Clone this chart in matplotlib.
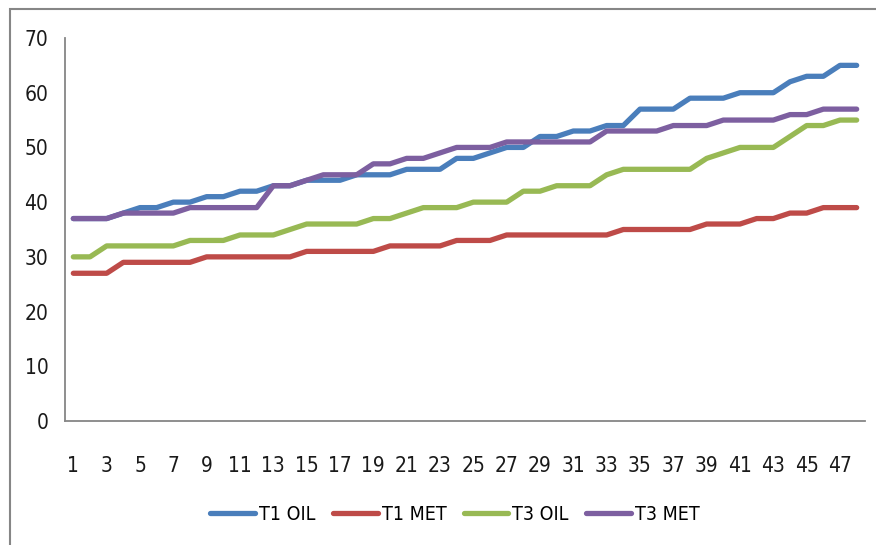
import matplotlib.pyplot as plt
import numpy as np
from matplotlib import font_manager
from matplotlib.patches import Rectangle

# narrow face if one is around, otherwise plain sans
fonts = font_manager.fontManager.ttflist
names = {f.name for f in fonts}
if 'Liberation Sans Narrow' in names:
    plt.rcParams['font.family'] = ['Liberation Sans Narrow', 'DejaVu Sans']
    fsize, lsize = 16, 16
elif any(f.name == 'DejaVu Sans' and f.stretch == 'condensed' for f in fonts):
    plt.rcParams['font.family'] = ['DejaVu Sans']
    plt.rcParams['font.stretch'] = 'condensed'
    fsize, lsize = 15, 14
else:
    plt.rcParams['font.family'] = ['Liberation Sans', 'DejaVu Sans']
    fsize, lsize = 14.5, 13.5

#####   Data   #####
days = np.arange(1, 49)
t1_oil = [37, 37, 37, 38, 39, 39, 40, 40, 41, 41, 42, 42, 43, 43, 44, 44,
          44, 45, 45, 45, 46, 46, 46, 48, 48, 49, 50, 50, 52, 52, 53, 53,
          54, 54, 57, 57, 57, 59, 59, 59, 60, 60, 60, 62, 63, 63, 65, 65]
t1_met = [27, 27, 27, 29, 29, 29, 29, 29, 30, 30, 30, 30, 30, 30, 31, 31,
          31, 31, 31, 32, 32, 32, 32, 33, 33, 33, 34, 34, 34, 34, 34, 34,
          34, 35, 35, 35, 35, 35, 36, 36, 36, 37, 37, 38, 38, 39, 39, 39]
t3_oil = [30, 30, 32, 32, 32, 32, 32, 33, 33, 33, 34, 34, 34, 35, 36, 36,
          36, 36, 37, 37, 38, 39, 39, 39, 40, 40, 40, 42, 42, 43, 43, 43,
          45, 46, 46, 46, 46, 46, 48, 49, 50, 50, 50, 52, 54, 54, 55, 55]
t3_met = [37, 37, 37, 38, 38, 38, 38, 39, 39, 39, 39, 39, 43, 43, 44, 45,
          45, 45, 47, 47, 48, 48, 49, 50, 50, 50, 51, 51, 51, 51, 51, 51,
          53, 53, 53, 53, 54, 54, 54, 55, 55, 55, 55, 56, 56, 57, 57, 57]

series = [('T1 OIL', t1_oil, '#4a7ebb'),
          ('T1 MET', t1_met, '#be4b48'),
          ('T3 OIL', t3_oil, '#98b954'),
          ('T3 MET', t3_met, '#7d5fa0')]

fig = plt.figure(figsize=(8.76, 5.45), dpi=100)
ax = fig.add_axes([65/876, 1-421/545, 800/876, 383/545])

for name, vals, col in series:
    ax.plot(days, vals, color=col, lw=3.8, label=name,
            solid_capstyle='round', solid_joinstyle='round')

ax.set_xlim(0.5, 48.5)
ax.set_ylim(0, 70)
ax.set_yticks(np.arange(0, 71, 10))
ax.set_xticks(days[::2])

for s in ['top', 'right']:
    ax.spines[s].set_visible(False)
for s in ['left', 'bottom']:
    ax.spines[s].set_color('#868686')
    ax.spines[s].set_linewidth(1.3)
ax.tick_params(axis='y', length=0, pad=12, labelsize=fsize, labelcolor='#1a1a1a')
ax.tick_params(axis='x', length=0, pad=25, labelsize=fsize, labelcolor='#1a1a1a')

fig.legend(loc='center', bbox_to_anchor=(455/876, 1-514/545), ncol=4, frameon=False,
           fontsize=lsize, handlelength=2.3, handletextpad=0.2, columnspacing=0.9)

# outer chart frame
fig.add_artist(Rectangle((10/876, -0.1), 1.2, 1.1-9/545, transform=fig.transFigure,
                         fill=False, edgecolor='#868686', lw=1.5, clip_on=False))

plt.savefig('out.png', dpi=100)
